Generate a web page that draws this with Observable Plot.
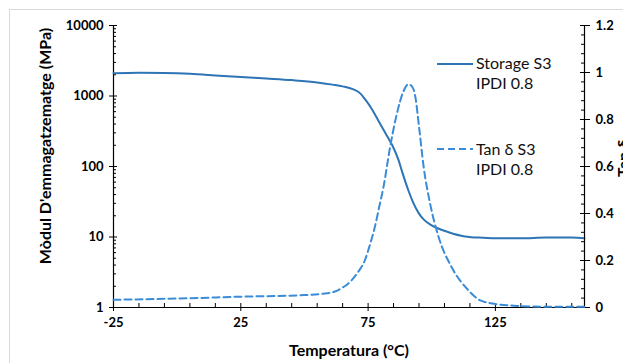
<!DOCTYPE html>
<html>
<head>
<meta charset="utf-8">
<script src="https://cdn.jsdelivr.net/npm/d3@7"></script>
<script src="https://cdn.jsdelivr.net/npm/@observablehq/plot@0.6"></script>
<style>
  body { margin: 0; background: #fff; }
  #wrap { position: relative; width: 623px; height: 363px; overflow: hidden; background: #fff; font-family: Lato, "Open Sans", sans-serif; }
  #border { position: absolute; left: 9px; top: 9px; width: 800px; height: 500px; border: 1px solid #d9d9d9; }
  #wrap svg { position: absolute; left: 0; top: 0; overflow: visible; }
  .ticklab text { font-weight: bold; }
</style>
</head>
<body>
<div id="wrap"><div id="border"></div></div>
<script>
// ---- data ----
const storageTemp = [-25, -15, -5, 5, 15, 25, 35, 45, 55, 61, 65, 69, 72, 74, 76.5, 79, 82, 84.5, 87, 88.2, 90.8, 92.5, 94.8, 97, 100, 106.6, 113, 120, 125, 135, 145, 155, 160];
const storageMPa  = [2100, 2140, 2120, 2060, 1960, 1860, 1770, 1680, 1560, 1450, 1370, 1250, 1080, 880, 650, 450, 290, 200, 122, 88, 46, 32, 22, 17.5, 14.6, 11.7, 10.2, 9.75, 9.6, 9.6, 9.8, 9.8, 9.6];

const tanTemp  = [-25, 0, 25, 50, 57, 62, 65, 68, 71, 73.7, 75.8, 77.6, 79.4, 81, 83.6, 86.2, 88.9, 90.8, 92.3, 93.5, 95, 96.8, 99.4, 102.7, 107.9, 114.5, 119.1, 125, 135, 145, 160];
const tanDelta = [0.033, 0.038, 0.046, 0.053, 0.058, 0.068, 0.085, 0.11, 0.15, 0.2, 0.27, 0.34, 0.43, 0.51, 0.68, 0.82, 0.92, 0.95, 0.94, 0.9, 0.77, 0.6, 0.44, 0.30, 0.17, 0.072, 0.03, 0.015, 0.006, 0.003, 0.003];

const xTicks = [-25, 25, 75, 125];
const xMinorTicks = [-15, -5, 5, 15, 35, 45, 55, 65, 85, 95, 105, 115, 135, 145, 155];
const yLeftTicks = [1, 10, 100, 1000, 10000];
const yLeftMinor = [2,3,4,5,6,7,8,9,20,30,40,50,60,70,80,90,200,300,400,500,600,700,800,900,2000,3000,4000,5000,6000,7000,8000,9000];
const yRightTicks = [0, 0.2, 0.4, 0.6, 0.8, 1, 1.2];
const yRightMinor = [0.04,0.08,0.12,0.16,0.24,0.28,0.32,0.36,0.44,0.48,0.52,0.56,0.64,0.68,0.72,0.76,0.84,0.88,0.92,0.96,1.04,1.08,1.12,1.16];

const xTitle = "Temperatura (°C)";
const yLeftTitle = "Mòdul D'emmagatzematge  (MPa)";
const yRightTitle = "Tan δ";
const legendStorage = ["Storage S3", "IPDI 0.8"];
const legendTan = ["Tan δ S3", "IPDI 0.8"];

const solidColor = "#2E75B6";
const dashColor = "#3A8CD8";

const storage = storageTemp.map((t, i) => ({t, v: storageMPa[i]}));
const tan = tanTemp.map((t, i) => ({t, v: tanDelta[i]}));

const common = {
  width: 623, height: 363,
  marginLeft: 113, marginRight: 39, marginTop: 25, marginBottom: 56,
  style: {background: "transparent", fontFamily: "Lato, 'Open Sans', sans-serif", fontSize: "13px", color: "#000"}
};
const xDomain = [-25, 160];

const p1 = Plot.plot({
  ...common,
  x: {domain: xDomain},
  y: {type: "log", domain: [1, 10000]},
  marks: [
    Plot.ruleX([-25], {stroke: "#000", strokeWidth: 1.2}),
    Plot.ruleY([1], {stroke: "#000", strokeWidth: 1.2}),
    Plot.axisY({ticks: yLeftTicks, anchor: "left", tickSize: 8, dx: 4, fill: "none", label: null, stroke: "#000"}),
    Plot.axisY({ticks: yLeftMinor, anchor: "left", tickSize: 3, dx: 3, fill: "none", label: null, stroke: "#000"}),
    Plot.axisY({ticks: yLeftTicks, anchor: "left", tickSize: 0, tickPadding: 10, tickFormat: d => String(d), label: null, className: "ticklab", fontWeight: "bold"}),
    Plot.axisX({ticks: xTicks, anchor: "bottom", tickSize: 8, dy: -4, fill: "none", label: null, stroke: "#000"}),
    Plot.axisX({ticks: xMinorTicks, anchor: "bottom", tickSize: 4, dy: -4, fill: "none", label: null, stroke: "#000"}),
    Plot.axisX({ticks: xTicks, anchor: "bottom", tickSize: 0, tickPadding: 10, tickFormat: d => String(d), label: null, className: "ticklab", fontWeight: "bold"}),
    Plot.line(storage, {x: "t", y: "v", stroke: solidColor, strokeWidth: 2, curve: "monotone-x"})
  ]
});

const p2 = Plot.plot({
  ...common,
  x: {domain: xDomain, axis: null},
  y: {domain: [0, 1.2], axis: null},
  marks: [
    Plot.ruleX([160], {stroke: "#000", strokeWidth: 1.2}),
    Plot.axisY({ticks: yRightTicks, anchor: "right", tickSize: 10, dx: -5, fill: "none", label: null, stroke: "#000"}),
    Plot.axisY({ticks: yRightMinor, anchor: "right", tickSize: 4, dx: -4, fill: "none", label: null, stroke: "#000"}),
    Plot.axisY({ticks: yRightTicks, anchor: "right", tickSize: 0, tickPadding: 11, tickFormat: d => String(d), label: null, className: "ticklab", fontWeight: "bold"}),
    Plot.line(tan, {x: "t", y: "v", stroke: dashColor, strokeWidth: 2, strokeDasharray: "7,4", curve: "monotone-x"})
  ]
});

const wrap = document.getElementById("wrap");
wrap.appendChild(p1);
wrap.appendChild(p2);

// titles and legend (text overlay)
const ns = "http://www.w3.org/2000/svg";
const ov = document.createElementNS(ns, "svg");
ov.setAttribute("width", 623); ov.setAttribute("height", 363);
ov.style.fontFamily = "Lato, 'Open Sans', sans-serif";
function txt(s, attrs) {
  const e = document.createElementNS(ns, "text");
  for (const k in attrs) e.setAttribute(k, attrs[k]);
  e.textContent = s;
  ov.appendChild(e);
  return e;
}
function ln(attrs) {
  const e = document.createElementNS(ns, "line");
  for (const k in attrs) e.setAttribute(k, attrs[k]);
  ov.appendChild(e);
}
txt(xTitle, {x: 349, y: 356, "text-anchor": "middle", "font-size": 16, "font-weight": "bold", fill: "#000"});
txt(yLeftTitle, {transform: "translate(51,146) rotate(-90)", "text-anchor": "middle", "font-size": 16, "font-weight": "bold", fill: "#000"});
txt(yRightTitle, {transform: "translate(629,158) rotate(-90)", "text-anchor": "middle", "font-size": 16, "font-weight": "bold", fill: "#000"});

ln({x1: 437, x2: 473, y1: 64, y2: 64, stroke: solidColor, "stroke-width": 2});
ln({x1: 437, x2: 473, y1: 149, y2: 149, stroke: dashColor, "stroke-width": 2, "stroke-dasharray": "7,4"});
txt(legendStorage[0], {x: 476, y: 69, "font-size": 16, fill: "#111"});
txt(legendStorage[1], {x: 476, y: 89, "font-size": 16, fill: "#111"});
txt(legendTan[0], {x: 476, y: 155, "font-size": 16, fill: "#111"});
txt(legendTan[1], {x: 476, y: 175, "font-size": 16, fill: "#111"});
wrap.appendChild(ov);
</script>
</body>
</html>
